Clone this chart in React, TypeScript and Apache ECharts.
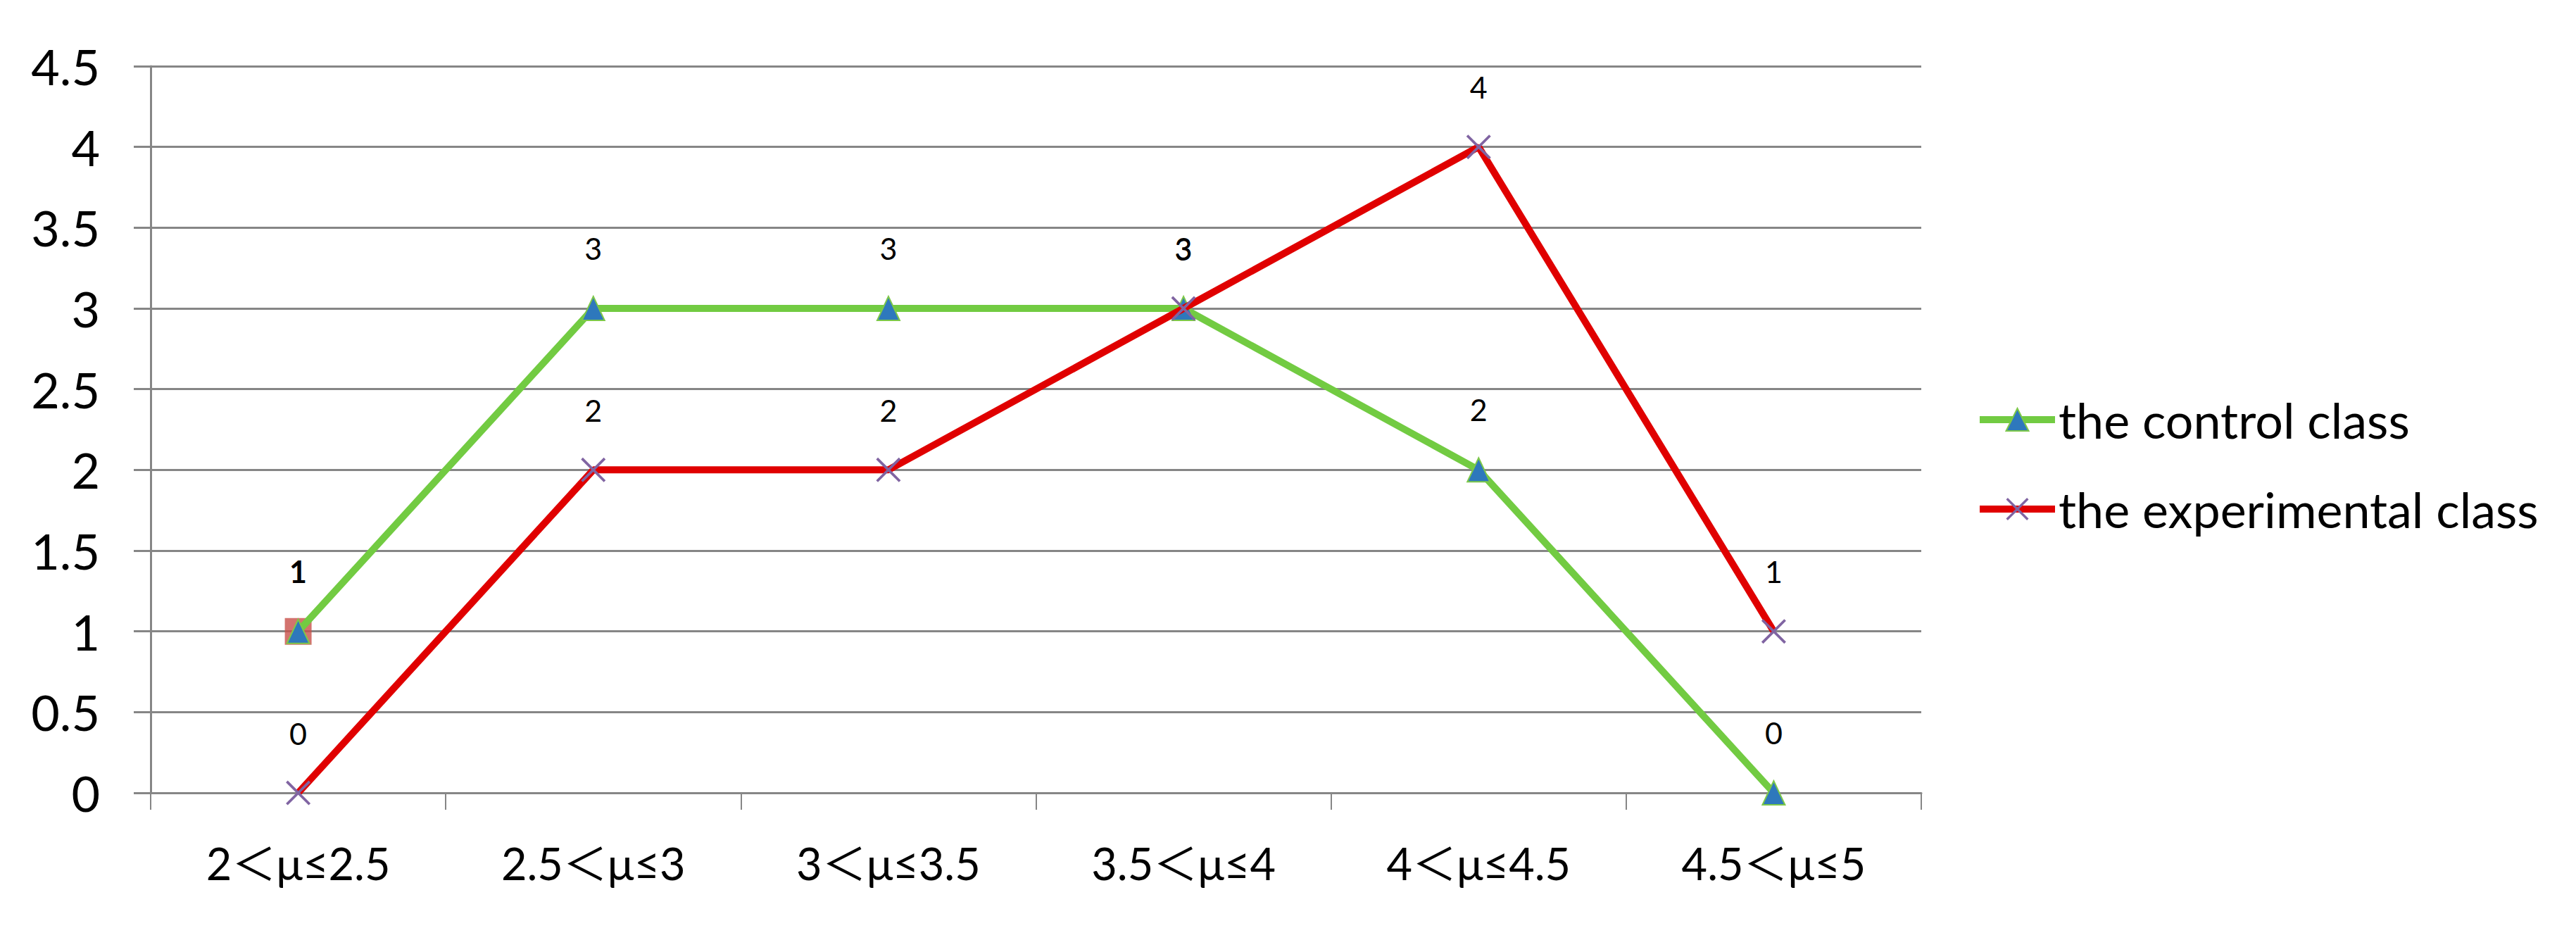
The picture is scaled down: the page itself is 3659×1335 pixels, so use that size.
import React, { useEffect, useRef } from "react";
import * as echarts from "echarts";

const categories = ["2＜μ≤2.5", "2.5＜μ≤3", "3＜μ≤3.5", "3.5＜μ≤4", "4＜μ≤4.5", "4.5＜μ≤5"];
const controlClass = [1, 3, 3, 3, 2, 0];
const experimentalClass = [0, 2, 2, 3, 4, 1];
const seriesNames = ["the control class", "the experimental class"];

const FONT = "Lato, 'Noto Sans CJK SC', sans-serif";
const X_PATH = "path://M0,1.5 L1.5,0 L20,18.5 L18.5,20 Z M18.5,0 L20,1.5 L1.5,20 L0,18.5 Z";

export default function App() {
  const ref = useRef<HTMLDivElement>(null);
  useEffect(() => {
    if (!ref.current) return;
    const chart = echarts.init(ref.current, null, { renderer: "svg" });
    const dataLabel = {
      show: true,
      position: "top",
      distance: 46,
      color: "#000",
      fontSize: 43,
      lineHeight: 43,
      fontFamily: FONT,
    };
    chart.setOption({
      animation: false,
      backgroundColor: "#fff",
      grid: { left: 214, right: 930, top: 94, bottom: 209, containLabel: false },
      legend: {
        orient: "vertical",
        left: 2802,
        top: 556,
        itemWidth: 107,
        itemHeight: 40,
        itemGap: 57,
        data: seriesNames,
        lineStyle: { width: 10 },
        textStyle: { color: "#000", fontSize: 70, lineHeight: 70, fontFamily: FONT },
      },
      xAxis: {
        type: "category",
        data: categories,
        boundaryGap: true,
        axisLine: { show: true, lineStyle: { color: "#868686", width: 3 } },
        axisTick: { show: true, length: 24, lineStyle: { color: "#868686", width: 2 } },
        axisLabel: { color: "#000", fontSize: 63, fontFamily: FONT, margin: 68, interval: 0 },
        splitLine: { show: false },
      },
      yAxis: {
        type: "value",
        min: 0,
        max: 4.5,
        interval: 0.5,
        axisLine: { show: true, lineStyle: { color: "#868686", width: 3 } },
        axisTick: { show: true, length: 24, lineStyle: { color: "#868686", width: 3 } },
        axisLabel: { color: "#000", fontSize: 70, fontFamily: FONT, margin: 72 },
        splitLine: { show: true, lineStyle: { color: "#868686", width: 3 } },
      },
      series: [
        {
          name: "first-point-marker",
          type: "scatter",
          z: 1,
          symbol: "rect",
          symbolSize: 38,
          itemStyle: { color: "#C8504A" },
          data: controlClass.map((v, i) => (i === 0 ? v : null)),
          silent: true,
        },
        {
          name: seriesNames[0],
          type: "line",
          z: 3,
          data: controlClass.map((v, i) =>
            i === 0 ? { value: v, label: { fontWeight: "bold" } } : v
          ),
          symbol: "triangle",
          symbolSize: [32, 34],
          showAllSymbol: true,
          lineStyle: { color: "#72CB42", width: 10 },
          itemStyle: { color: "#2E78BC", borderColor: "#7DC849", borderWidth: 2 },
          label: dataLabel,
        },
        {
          name: seriesNames[1],
          type: "line",
          z: 4,
          data: experimentalClass,
          symbol: X_PATH,
          symbolSize: 35,
          showAllSymbol: true,
          lineStyle: { color: "#E00000", width: 10 },
          itemStyle: { color: "#8064A2" },
          label: dataLabel,
        },
      ],
    });
    return () => chart.dispose();
  }, []);
  return (
    <div
      ref={ref}
      style={{ position: "fixed", left: 0, top: 0, width: 3659, height: 1335 }}
    />
  );
}
